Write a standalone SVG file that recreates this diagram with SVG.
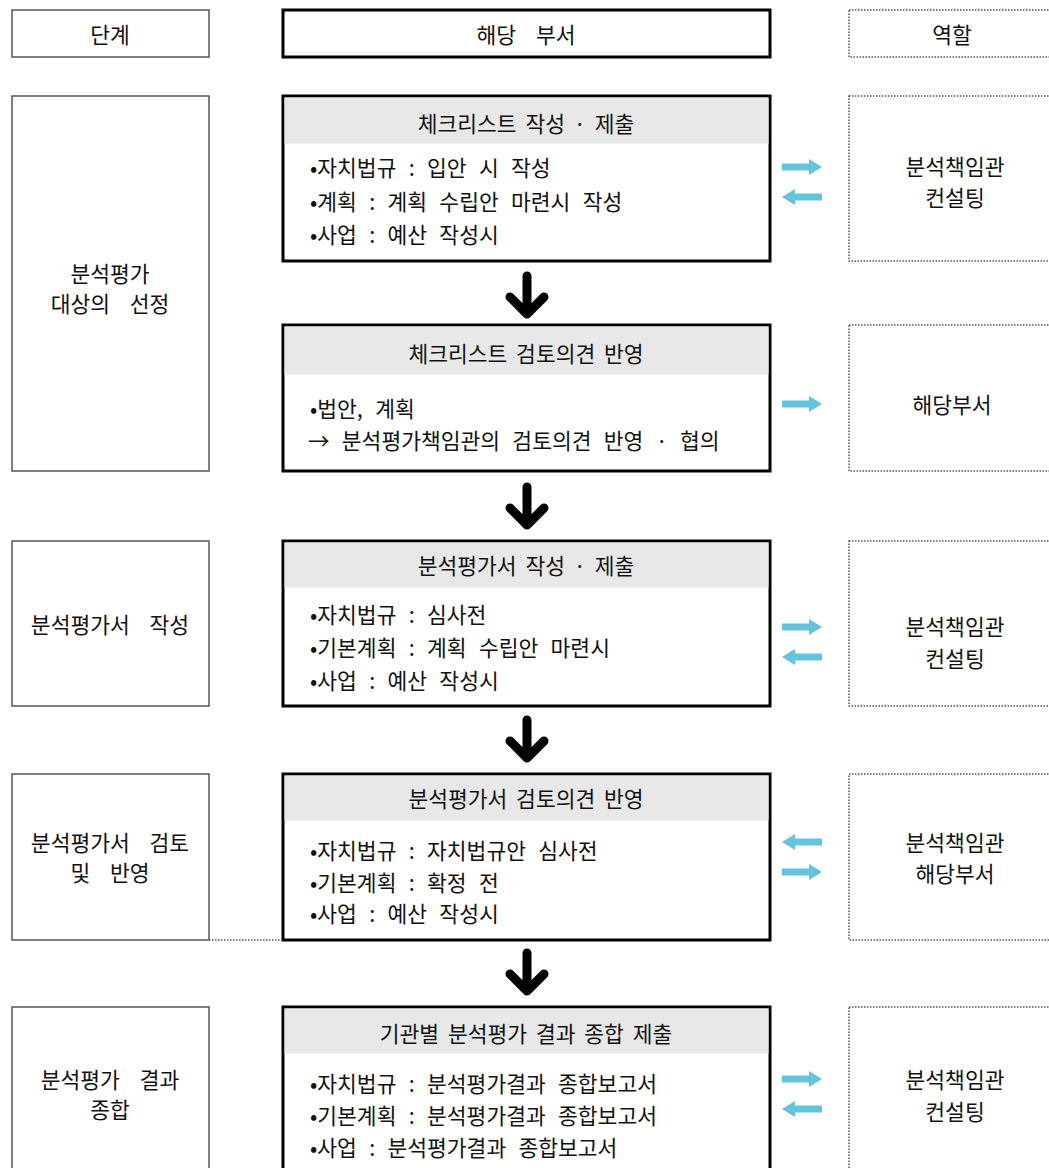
<svg xmlns="http://www.w3.org/2000/svg" width="1049" height="1168" viewBox="0 0 1049 1168">
<style>
  text { font-family: "Noto Sans CJK KR", "Liberation Serif", serif; font-size: 21.5px; fill: #111; }
  .c { text-anchor: middle; dominant-baseline: central; word-spacing: 4px; }
  .w { word-spacing: 15px; }
  .l { dominant-baseline: central; word-spacing: 7.5px; }
  .stage { fill: #fff; stroke: #555; stroke-width: 1.5; }
  .dept { fill: #fff; stroke: #000; stroke-width: 3; }
  .band { fill: #e8e8e8; }
  .role { fill: #fff; stroke: #555; stroke-width: 1.5; stroke-dasharray: 1.5 1.5; }
  .down { fill: none; stroke: #000; stroke-width: 9; stroke-linecap: round; stroke-linejoin: round; }
  .blue { fill: #62c4dd; }
</style>
<defs>
  <path id="ar" d="M0,-3.5 H27 V-8 L40,0 L27,8 V3.5 H0 Z"/>
  <path id="al" d="M40,-3.5 H13 V-8 L0,0 L13,8 V3.5 H40 Z"/>
</defs>
<rect width="1049" height="1168" fill="#fff"/>

<g id="header">
  <g id="h-stage"><rect class="stage" x="12" y="10" width="197" height="47"/><text class="c" x="110" y="33">단계</text></g>
  <g id="h-dept"><rect class="dept" x="283" y="10" width="487" height="47"/><text class="c w" x="526" y="33">해당 부서</text></g>
  <g id="h-role"><rect class="role" x="849" y="10" width="215" height="47"/><text class="c" x="952" y="33">역할</text></g>
</g>

<g id="stage1"><rect class="stage" x="12" y="96" width="197" height="375"/>
  <text class="c w" x="110" y="272">분석평가</text><text class="c w" x="110" y="302">대상의 선정</text></g>
<g id="stage2"><rect class="stage" x="12" y="541" width="197" height="165"/>
  <text class="c w" x="110" y="623">분석평가서 작성</text></g>
<g id="stage3"><rect class="stage" x="12" y="774" width="197" height="166"/>
  <text class="c w" x="110" y="841">분석평가서 검토</text><text class="c w" x="110" y="871">및 반영</text></g>
<g id="stage4"><rect class="stage" x="12" y="1007" width="197" height="170"/>
  <text class="c w" x="110" y="1078">분석평가 결과</text><text class="c w" x="110" y="1108">종합</text></g>

<g id="dept1"><rect class="dept" x="283" y="96" width="487" height="165"/>
  <rect class="band" x="284.5" y="97.5" width="484" height="46"/>
  <text class="c" x="526" y="122">체크리스트 작성 · 제출</text>
  <text class="l" x="310" y="166">•자치법규 : 입안 시 작성</text>
  <text class="l" x="310" y="200">•계획 : 계획 수립안 마련시 작성</text>
  <text class="l" x="310" y="233">•사업 : 예산 작성시</text></g>
<g id="dept2"><rect class="dept" x="283" y="325" width="487" height="146"/>
  <rect class="band" x="284.5" y="326.5" width="484" height="48"/>
  <text class="c" x="526" y="352">체크리스트 검토의견 반영</text>
  <text class="l" x="310" y="407">•법안, 계획</text>
  <text class="l" x="308" y="439">→ 분석평가책임관의 검토의견 반영 · 협의</text></g>
<g id="dept3"><rect class="dept" x="283" y="541" width="487" height="165"/>
  <rect class="band" x="284.5" y="542.5" width="484" height="45"/>
  <text class="c" x="526" y="564">분석평가서 작성 · 제출</text>
  <text class="l" x="310" y="613">•자치법규 : 심사전</text>
  <text class="l" x="310" y="646">•기본계획 : 계획 수립안 마련시</text>
  <text class="l" x="310" y="679">•사업 : 예산 작성시</text></g>
<g id="dept4"><rect class="dept" x="283" y="774" width="487" height="166"/>
  <rect class="band" x="284.5" y="775.5" width="484" height="45"/>
  <text class="c" x="526" y="797">분석평가서 검토의견 반영</text>
  <text class="l" x="310" y="849">•자치법규 : 자치법규안 심사전</text>
  <text class="l" x="310" y="881">•기본계획 : 확정 전</text>
  <text class="l" x="310" y="912">•사업 : 예산 작성시</text></g>
<g id="dept5"><rect class="dept" x="283" y="1007" width="487" height="170"/>
  <rect class="band" x="284.5" y="1008.5" width="484" height="45"/>
  <text class="c" x="526" y="1032">기관별 분석평가 결과 종합 제출</text>
  <text class="l" x="310" y="1082">•자치법규 : 분석평가결과 종합보고서</text>
  <text class="l" x="310" y="1114">•기본계획 : 분석평가결과 종합보고서</text>
  <text class="l" x="310" y="1146">•사업 : 분석평가결과 종합보고서</text></g>

<g id="role1"><rect class="role" x="849" y="96" width="215" height="165"/>
  <text class="c" x="955" y="165">분석책임관</text><text class="c" x="955" y="196">컨설팅</text></g>
<g id="role2"><rect class="role" x="849" y="325" width="215" height="146"/>
  <text class="c" x="952" y="403">해당부서</text></g>
<g id="role3"><rect class="role" x="849" y="541" width="215" height="165"/>
  <text class="c" x="955" y="625">분석책임관</text><text class="c" x="955" y="657">컨설팅</text></g>
<g id="role4"><rect class="role" x="849" y="774" width="215" height="166"/>
  <text class="c" x="955" y="841">분석책임관</text><text class="c" x="955" y="872">해당부서</text></g>
<g id="role5"><rect class="role" x="849" y="1007" width="215" height="170"/>
  <text class="c" x="955" y="1078">분석책임관</text><text class="c" x="955" y="1110">컨설팅</text></g>

<g id="connectors">
  <path class="down" d="M527,276 V313 M510,297 L527,314 L544,297"/>
  <path class="down" d="M527,487 V524 M510,508 L527,525 L544,508"/>
  <path class="down" d="M527,720 V757 M510,741 L527,758 L544,741"/>
  <path class="down" d="M527,953 V990 M510,974 L527,991 L544,974"/>
  <line x1="209" y1="940" x2="283" y2="940" stroke="#555" stroke-width="1.5" stroke-dasharray="1.5 1.5"/>
  <use href="#ar" class="blue" x="782" y="167"/>
  <use href="#al" class="blue" x="782" y="197"/>
  <use href="#ar" class="blue" x="782" y="404"/>
  <use href="#ar" class="blue" x="782" y="627"/>
  <use href="#al" class="blue" x="782" y="657"/>
  <use href="#al" class="blue" x="782" y="842"/>
  <use href="#ar" class="blue" x="782" y="872"/>
  <use href="#ar" class="blue" x="782" y="1079"/>
  <use href="#al" class="blue" x="782" y="1109"/>
</g>
</svg>
